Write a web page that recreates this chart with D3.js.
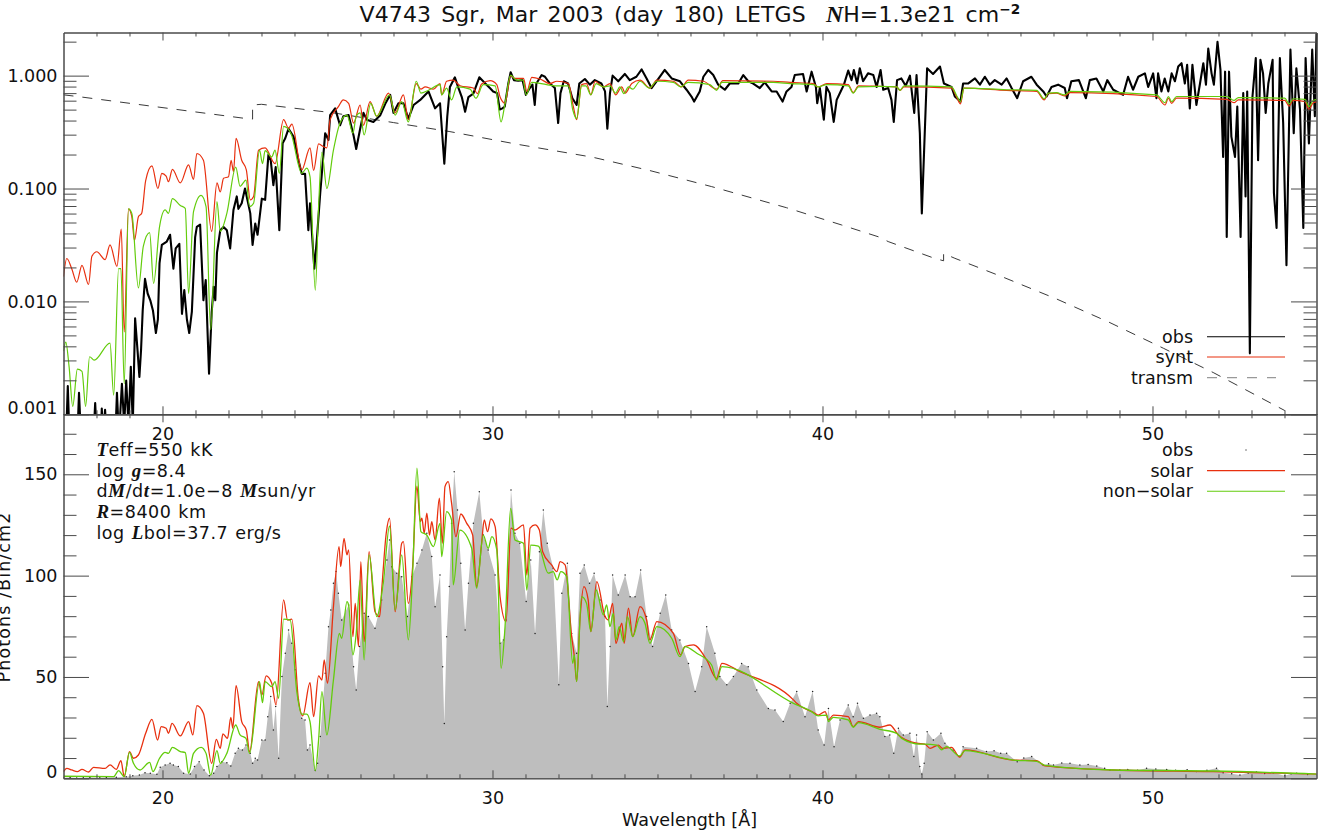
<!DOCTYPE html>
<html><head><meta charset="utf-8">
<script src="https://cdn.jsdelivr.net/npm/d3@7/dist/d3.min.js"></script>
<style>
html,body{margin:0;padding:0;background:#fff;overflow:hidden}
svg{display:block}
text{font-family:"DejaVu Sans",sans-serif;fill:#111}
.it{font-family:"Liberation Serif",serif;font-style:italic;font-weight:700}
</style></head><body><svg id="c" width="1321" height="830"></svg>
<script>
// wavelength [A], log10(flux) for the top panel
const obsLog=[[17,-3.2],[17.08,-3.2],[17.13,-2.75],[17.18,-3.2],[17.42,-3.2],[17.47,-2.81],[17.53,-3.2],[17.91,-3.2],[17.96,-2.9],[18.01,-3.2],[18.13,-3.2],[18.16,-2.95],[18.2,-3.2],[18.26,-2.96],[18.31,-3.2],[18.57,-3.2],[18.62,-2.81],[18.68,-3.2],[18.77,-2.73],[18.84,-3.1],[18.9,-2.7],[18.97,-3.1],[19.04,-2.58],[19.1,-3.1],[19.17,-2.15],[19.25,-2.46],[19.3,-2.67],[19.35,-2.43],[19.4,-2.08],[19.47,-1.8],[19.55,-1.93],[19.63,-1.99],[19.71,-2.08],[19.8,-2.28],[19.86,-2.16],[19.91,-1.66],[19.98,-1.5],[20.13,-1.47],[20.23,-1.41],[20.33,-1.71],[20.4,-1.53],[20.51,-1.49],[20.59,-2.11],[20.66,-1.9],[20.74,-2.16],[20.81,-2.28],[20.89,-2.09],[20.99,-1.43],[21.04,-1.34],[21.14,-1.32],[21.24,-1.99],[21.31,-1.81],[21.41,-2.64],[21.49,-2.1],[21.55,-1.87],[21.6,-1.99],[21.65,-1.57],[21.75,-1.37],[21.85,-1.34],[21.95,-1.37],[22.05,-1.53],[22.15,-1.19],[22.25,-1.07],[22.3,-1.18],[22.4,-1.13],[22.5,-1],[22.66,-1.22],[22.73,-1.5],[22.81,-1.31],[22.88,-1.41],[23.01,-1.09],[23.11,-1.1],[23.21,-0.7],[23.28,-0.75],[23.36,-0.97],[23.43,-0.81],[23.54,-1.37],[23.64,-0.6],[23.72,-0.555],[23.82,-0.47],[23.97,-0.54],[24.12,-0.75],[24.22,-0.87],[24.32,-0.87],[24.42,-1.37],[24.47,-1.13],[24.6,-1.71],[24.68,-1.44],[24.78,-1.04],[24.93,-0.51],[25.03,-0.57],[25.08,-0.35],[25.23,-0.29],[25.38,-0.44],[25.48,-0.36],[25.64,-0.35],[25.79,-0.53],[25.87,-0.65],[25.99,-0.47],[26.09,-0.33],[26.19,-0.39],[26.39,-0.41],[26.6,-0.35],[26.75,-0.25],[26.9,-0.17],[27,-0.33],[27.15,-0.245],[27.3,-0.245],[27.45,-0.38],[27.61,-0.26],[27.81,-0.215],[28.06,-0.14],[28.26,-0.29],[28.41,-0.245],[28.54,-0.78],[28.63,-0.36],[28.71,-0.1],[28.86,-0.015],[28.97,-0.11],[29.07,-0.19],[29.17,-0.32],[29.27,-0.19],[29.42,-0.16],[29.6,-0.015],[29.82,-0.08],[29.92,-0.11],[30.02,-0.14],[30.14,-0.155],[30.22,-0.3],[30.3,-0.29],[30.37,-0.275],[30.48,-0.07],[30.55,0.03],[30.65,-0.04],[30.78,-0.045],[30.91,-0.04],[31.01,-0.17],[31.13,-0.11],[31.21,-0.08],[31.28,-0.26],[31.33,-0.07],[31.49,0.005],[31.59,-0.01],[31.74,-0.07],[31.89,-0.11],[31.99,-0.42],[32.06,-0.155],[32.16,-0.05],[32.29,-0.07],[32.42,-0.2],[32.55,-0.26],[32.63,-0.07],[32.8,-0.03],[32.95,-0.08],[33.1,-0.04],[33.3,-0.07],[33.41,-0.14],[33.48,-0.47],[33.56,-0.155],[33.64,0],[33.81,-0.05],[34.01,0.015],[34.16,-0.04],[34.36,-0.01],[34.52,0.055],[34.67,-0.025],[34.82,-0.11],[34.97,-0.05],[35.22,0.05],[35.43,-0.025],[35.68,-0.05],[35.88,-0.125],[36.03,-0.185],[36.11,-0.23],[36.28,-0.14],[36.39,-0.01],[36.54,0.05],[36.69,0.005],[36.84,-0.08],[37.04,-0.125],[37.19,-0.07],[37.45,-0.07],[37.6,0.005],[37.75,-0.05],[37.9,-0.07],[38.1,-0.11],[38.25,-0.06],[38.46,-0.14],[38.61,-0.14],[38.79,-0.23],[38.91,-0.14],[39.06,-0.1],[39.16,0.005],[39.41,0.015],[39.52,-0.14],[39.67,0.035],[39.8,-0.1],[39.84,-0.245],[39.92,-0.11],[40.04,-0.39],[40.12,-0.1],[40.22,-0.155],[40.34,-0.41],[40.43,-0.215],[40.55,-0.14],[40.65,-0.08],[40.78,0.045],[40.88,-0.04],[40.95,0.05],[41.05,-0.07],[41.13,0.065],[41.23,-0.05],[41.38,0.02],[41.54,0.005],[41.64,-0.1],[41.76,0.05],[41.84,-0.125],[41.99,-0.11],[42.09,-0.215],[42.16,-0.41],[42.26,-0.04],[42.39,-0.025],[42.52,-0.09],[42.65,0],[42.78,-0.33],[42.85,0.005],[42.95,-0.51],[43.01,-1.22],[43.08,-0.66],[43.17,0.065],[43.35,0.015],[43.56,0.08],[43.68,-0.07],[43.91,-0.1],[44.01,-0.185],[44.18,-0.23],[44.26,-0.07],[44.41,-0.07],[44.62,-0.025],[44.77,-0.08],[44.92,-0.01],[45.07,-0.08],[45.22,-0.04],[45.43,-0.08],[45.58,-0.025],[45.73,-0.11],[45.9,-0.2],[46.08,-0.05],[46.33,-0.01],[46.49,-0.08],[46.69,-0.14],[46.79,-0.185],[46.94,-0.1],[47.14,-0.08],[47.34,-0.11],[47.41,-0.2],[47.54,-0.05],[47.77,-0.04],[47.98,-0.2],[48.1,-0.04],[48.3,-0.025],[48.51,-0.14],[48.63,-0.04],[48.81,-0.125],[49.11,-0.17],[49.26,-0.01],[49.41,-0.125],[49.57,-0.01],[49.77,0.02],[49.87,-0.1],[50.02,0.02],[50.12,-0.2],[50.17,0.02],[50.27,-0.14],[50.37,-0.025],[50.48,-0.14],[50.58,0.02],[50.68,-0.05],[50.78,0.08],[50.88,0.11],[50.98,-0.07],[51.05,0.095],[51.13,-0.29],[51.21,0.095],[51.33,-0.26],[51.44,-0.07],[51.54,0.11],[51.62,-0.08],[51.69,0.24],[51.79,0.02],[51.86,-0.08],[51.97,0.3],[52.06,0.05],[52.14,-0.72],[52.2,0.035],[52.25,-1.43],[52.32,0.035],[52.39,-0.54],[52.5,-0.72],[52.57,-0.275],[52.67,-1.43],[52.75,-0.155],[52.82,-1.07],[52.87,-0.14],[52.95,-2.46],[53.03,-0.185],[53.13,0.155],[53.2,-0.75],[53.27,0.14],[53.35,0.02],[53.43,-0.33],[53.51,-0.07],[53.64,0.14],[53.68,-1.04],[53.76,-1.35],[53.86,0.155],[53.96,-0.42],[54.06,-1.68],[54.18,0.23],[54.28,-0.51],[54.36,0.065],[54.47,-0.3],[54.57,-1.35],[54.64,0.155],[54.74,-0.6],[54.84,0.23],[54.92,-0.36],[54.97,0.375]];
const solarLog=[[17,-1.78],[17.1,-1.62],[17.25,-1.71],[17.4,-1.83],[17.56,-1.68],[17.76,-1.85],[17.86,-1.6],[18.01,-1.56],[18.26,-1.63],[18.41,-1.5],[18.62,-1.69],[18.75,-1.36],[18.84,-2.27],[18.97,-1.18],[19.07,-1.25],[19.15,-1.46],[19.27,-1.25],[19.37,-1.22],[19.49,-0.93],[19.68,-0.8],[19.86,-1],[19.98,-0.865],[20.11,-0.89],[20.18,-0.94],[20.3,-0.83],[20.54,-0.95],[20.79,-0.79],[20.94,-0.92],[21.04,-0.69],[21.24,-0.75],[21.49,-1.38],[21.65,-0.95],[21.75,-1.03],[21.85,-0.91],[22,-0.895],[22.08,-0.75],[22.15,-0.85],[22.23,-0.555],[22.4,-0.75],[22.54,-0.835],[22.66,-1.1],[22.76,-1.07],[22.91,-0.66],[23.11,-0.64],[23.41,-0.78],[23.67,-0.39],[23.82,-0.465],[23.92,-0.43],[24.22,-0.835],[24.47,-0.64],[24.58,-0.84],[24.73,-0.605],[24.88,-0.63],[24.98,-0.64],[25.08,-0.39],[25.33,-0.275],[25.48,-0.215],[25.64,-0.245],[25.79,-0.42],[25.99,-0.26],[26.09,-0.44],[26.29,-0.23],[26.49,-0.36],[26.85,-0.155],[27.05,-0.33],[27.3,-0.17],[27.45,-0.39],[27.69,-0.07],[27.83,-0.12],[27.96,-0.1],[28.21,-0.12],[28.41,-0.07],[28.46,-0.17],[28.61,-0.05],[28.81,-0.04],[29.02,-0.09],[29.42,-0.11],[29.54,-0.16],[29.67,-0.075],[29.93,-0.045],[30.13,-0.08],[30.23,-0.19],[30.38,-0.245],[30.55,0],[30.68,-0.025],[30.94,-0.025],[31.04,-0.14],[31.19,-0.015],[31.44,-0.03],[31.74,-0.07],[31.95,-0.05],[32.3,-0.07],[32.45,-0.275],[32.55,-0.39],[32.7,-0.08],[32.85,-0.07],[32.98,-0.17],[33.11,-0.05],[33.36,-0.1],[33.56,-0.07],[33.73,-0.17],[33.92,-0.1],[34.02,-0.155],[34.22,-0.07],[34.47,-0.04],[34.77,-0.11],[34.98,-0.04],[35.48,-0.05],[35.73,-0.1],[35.93,-0.04],[36.39,-0.05],[36.79,-0.12],[36.98,-0.045],[38.51,-0.05],[39.02,-0.06],[39.72,-0.07],[39.87,-0.1],[40.13,-0.07],[40.78,-0.08],[40.93,-0.15],[41.09,-0.09],[41.74,-0.095],[42.25,-0.1],[42.35,-0.13],[42.47,-0.1],[43.91,-0.11],[44.08,-0.2],[44.18,-0.25],[44.29,-0.11],[45.58,-0.13],[46.49,-0.14],[46.72,-0.215],[46.84,-0.16],[47.09,-0.155],[47.33,-0.18],[47.5,-0.15],[50.12,-0.185],[50.38,-0.26],[50.48,-0.2],[50.58,-0.245],[50.73,-0.2],[52.25,-0.21],[52.47,-0.24],[52.6,-0.215],[54.01,-0.22],[54.14,-0.27],[54.26,-0.22],[54.62,-0.23],[54.74,-0.3],[54.87,-0.24],[54.99,-0.23]];
const nonSolarLog=[[17,-2.44],[17.07,-2.36],[17.17,-2.58],[17.28,-2.93],[17.42,-2.6],[17.56,-2.62],[17.67,-2.93],[17.79,-2.49],[17.93,-2.52],[18.41,-2.37],[18.52,-2.83],[18.67,-1.71],[18.74,-1.71],[18.84,-2.73],[18.97,-1.18],[19.07,-1.22],[19.27,-1.88],[19.42,-1.51],[19.61,-1.39],[19.73,-1.84],[19.91,-1.34],[20.08,-1.19],[20.18,-1.22],[20.3,-1.09],[20.54,-1.15],[20.69,-1.175],[20.79,-1.93],[20.94,-1.205],[21.17,-1.06],[21.32,-1.16],[21.46,-2.25],[21.65,-1.115],[21.75,-1.38],[21.95,-1.22],[22.22,-0.81],[22.35,-0.98],[22.53,-0.925],[22.64,-1.16],[22.76,-1.13],[22.94,-0.66],[23.03,-0.78],[23.11,-0.665],[23.31,-0.72],[23.41,-0.66],[23.54,-0.865],[23.67,-0.45],[23.89,-0.51],[24.22,-0.865],[24.37,-0.82],[24.47,-0.895],[24.63,-1.9],[24.73,-1.16],[24.83,-0.68],[24.98,-1],[25.18,-0.66],[25.38,-0.42],[25.59,-0.35],[25.77,-0.51],[25.87,-0.36],[25.99,-0.33],[26.11,-0.525],[26.31,-0.245],[26.49,-0.36],[26.88,-0.17],[27.05,-0.35],[27.25,-0.23],[27.45,-0.41],[27.69,-0.05],[27.83,-0.155],[28.06,-0.13],[28.41,-0.08],[28.46,-0.17],[28.61,-0.11],[28.76,-0.215],[28.92,-0.1],[29.32,-0.12],[29.5,-0.2],[29.72,-0.08],[30.08,-0.09],[30.26,-0.41],[30.38,-0.245],[30.55,0.005],[30.73,-0.04],[30.92,-0.04],[31.02,-0.17],[31.19,-0.06],[31.64,-0.08],[31.9,-0.09],[32.3,-0.09],[32.43,-0.3],[32.55,-0.38],[32.7,-0.09],[32.83,-0.09],[32.98,-0.17],[33.14,-0.07],[33.36,-0.1],[33.56,-0.09],[33.73,-0.155],[33.86,-0.1],[33.98,-0.16],[34.12,-0.1],[34.25,-0.12],[34.47,-0.05],[34.75,-0.11],[34.98,-0.05],[35.48,-0.06],[35.7,-0.1],[35.93,-0.06],[36.59,-0.08],[36.79,-0.13],[36.95,-0.06],[38.51,-0.06],[39.02,-0.07],[39.72,-0.08],[39.87,-0.1],[40.13,-0.08],[40.78,-0.09],[40.93,-0.155],[41.09,-0.1],[41.74,-0.095],[42.25,-0.1],[42.35,-0.13],[42.47,-0.09],[43.91,-0.1],[44.08,-0.185],[44.18,-0.23],[44.29,-0.11],[45.58,-0.125],[46.49,-0.13],[46.72,-0.205],[46.84,-0.155],[47.09,-0.15],[47.33,-0.17],[47.5,-0.14],[50.12,-0.17],[50.38,-0.24],[50.48,-0.185],[50.58,-0.23],[50.73,-0.185],[52.25,-0.185],[52.47,-0.22],[52.6,-0.195],[54.01,-0.2],[54.14,-0.25],[54.26,-0.205],[54.62,-0.21],[54.74,-0.275],[54.87,-0.22],[54.99,-0.21]];
const transmLog=[[17,-0.17],[17.56,-0.19],[22.66,-0.385],[22.73,-0.385],[22.73,-0.26],[23,-0.254],[25.18,-0.33],[27,-0.416],[28.71,-0.496],[30.75,-0.608],[33.04,-0.723],[34.77,-0.841],[36.64,-0.983],[38.91,-1.17],[40.58,-1.323],[41.74,-1.432],[41.99,-1.47],[43.41,-1.62],[43.67,-1.64],[43.67,-1.575],[44.01,-1.618],[45.43,-1.78],[47.09,-1.978],[48.71,-2.188],[50.33,-2.415],[51.84,-2.63],[54.01,-2.967]];
// wavelength [A], photons per bin for the bottom panel
const obsPhot=[[17,0.3],[17.2,0.4],[17.4,0.2],[17.6,0.3],[17.8,0.4],[18.1,0.3],[18.3,0.4],[18.6,0.5],[18.9,0.8],[19.1,1.2],[19.3,1.6],[19.47,2.8],[19.63,2.5],[19.83,2],[19.93,5.4],[20.08,6.6],[20.23,7.4],[20.33,6.6],[20.48,5.8],[20.64,2.5],[20.84,2.1],[20.97,5.8],[21.11,8.2],[21.26,4.1],[21.42,1.2],[21.55,2.5],[21.65,5.8],[21.8,8.2],[21.95,7.7],[22.07,6.1],[22.2,12.3],[22.3,14.8],[22.42,14],[22.53,16.4],[22.66,12.3],[22.73,7.4],[22.81,9.9],[22.88,9],[23.01,18.9],[23.11,18.9],[23.19,30.4],[23.28,40.3],[23.36,23.8],[23.43,35.4],[23.52,9.9],[23.62,50.2],[23.72,61.7],[23.82,73.2],[23.92,66.6],[24.02,53.5],[24.12,38.7],[24.22,29.6],[24.32,28.8],[24.39,14],[24.47,16.4],[24.63,3.8],[24.7,7.4],[24.78,20.6],[24.93,51.8],[25.03,74.8],[25.1,83],[25.18,96.2],[25.26,102],[25.33,91.3],[25.43,78.1],[25.64,85.5],[25.79,55.1],[25.87,43.6],[25.97,65],[26.11,81.4],[26.24,79.8],[26.44,74],[26.64,88],[26.8,107.7],[26.88,117.6],[26.95,104.4],[27.1,101.2],[27.25,99.5],[27.42,79.8],[27.56,99.5],[27.71,106.1],[27.86,112.7],[28.01,120.9],[28.16,109.4],[28.26,84.7],[28.41,100.3],[28.49,55.1],[28.54,27.1],[28.61,69.9],[28.69,94.6],[28.76,125.8],[28.84,151.3],[28.94,132.4],[29.04,106.1],[29.17,73.2],[29.27,96.2],[29.42,125.8],[29.6,141.4],[29.72,120],[29.87,112.7],[30.08,100.3],[30.23,66.6],[30.33,68.3],[30.41,78.1],[30.56,142.3],[30.68,120.9],[30.83,116],[31.02,87.2],[31.16,107.7],[31.29,71.5],[31.42,111.8],[31.54,132.4],[31.66,116],[31.84,103.6],[32.01,46.1],[32.1,91.3],[32.27,106.1],[32.4,71.5],[32.55,61.7],[32.65,101.2],[32.78,105.3],[32.94,96.2],[33.08,101.2],[33.26,88],[33.41,79.8],[33.48,35.4],[33.56,65],[33.64,100.3],[33.81,90.5],[34.02,100.3],[34.17,89.6],[34.32,89.6],[34.49,102.8],[34.67,79.8],[34.85,65],[35.08,81.4],[35.25,90.5],[35.43,73.2],[35.68,68.3],[35.94,56.7],[36.14,42.8],[36.34,55.1],[36.49,74.8],[36.74,61.7],[36.89,50.2],[37.1,46.1],[37.3,50.2],[37.55,56.7],[37.75,55.1],[38.01,43.6],[38.36,34.5],[38.56,33.7],[38.81,28],[39.02,37],[39.22,42.8],[39.47,30.4],[39.7,42.8],[39.87,23.8],[40.05,16.4],[40.18,34.5],[40.35,15.6],[40.53,28.8],[40.78,36.2],[40.93,30.4],[41.06,37],[41.24,29.6],[41.44,31.2],[41.64,32.1],[41.74,30.4],[41.89,20.6],[42.04,21.4],[42.16,12.3],[42.3,24.7],[42.45,21.4],[42.65,22.2],[42.77,10.7],[42.85,21.4],[42.95,5.8],[43.01,2.1],[43.08,7.4],[43.17,23],[43.36,18.9],[43.59,22.2],[43.71,17.3],[43.96,14],[44.16,10.7],[44.26,15.6],[44.67,14.8],[44.97,13.2],[45.2,13.6],[45.4,12.4],[45.58,12.3],[45.9,8.2],[46.1,10],[46.34,10.7],[46.69,6.6],[46.85,7.2],[47,6.6],[47.25,7.6],[47.5,7.4],[47.8,6.6],[48.05,6.8],[48.31,6.1],[48.55,5],[48.71,4.1],[49.01,4.1],[49.25,4.4],[49.55,4],[49.82,4.9],[50.1,4.6],[50.43,4.4],[50.7,4],[51.05,4.2],[51.34,3.3],[51.65,4],[51.94,4.9],[52.14,2.8],[52.4,2.2],[52.65,1.6],[52.9,2.6],[53.15,3.1],[53.4,2.4],[53.66,2.8],[54.01,1.2],[54.2,2.2],[54.37,2.5],[54.7,1.9],[54.99,1.6]];
const solarPhot=[[17,3.3],[17.1,4.9],[17.25,4.1],[17.42,3.3],[17.56,4.4],[17.76,3.1],[17.91,5.4],[18.26,4.9],[18.41,6.6],[18.6,4.4],[18.74,8.7],[18.84,0.8],[19,13.2],[19.12,9.9],[19.27,11.5],[19.49,22.2],[19.68,29.1],[19.85,18.9],[19.96,25.5],[20.11,24.7],[20.18,22.2],[20.29,27.1],[20.54,20.9],[20.79,28],[20.92,21.4],[21.04,35.9],[21.24,32.1],[21.49,7.4],[21.63,19.2],[21.75,14.8],[21.83,21.9],[21.97,19.7],[22.07,30.1],[22.13,24.7],[22.23,45.7],[22.4,28],[22.54,23.8],[22.64,13.2],[22.91,47.7],[23.01,41.1],[23.14,50.5],[23.31,46.9],[23.44,36.2],[23.67,88],[23.79,78.1],[23.92,78.5],[24.12,38.7],[24.25,30.8],[24.47,47.2],[24.58,30.4],[24.73,50.5],[24.83,48.5],[24.9,58.4],[25,46.9],[25.18,84.7],[25.35,114.3],[25.4,104.4],[25.5,118.4],[25.59,110.2],[25.64,112.7],[25.77,69.9],[25.84,86.3],[25.94,65],[26.01,106.9],[26.11,67.4],[26.26,111.8],[26.44,82.2],[26.58,79.8],[26.65,94.6],[26.78,120.9],[26.88,128.3],[27.05,82.2],[27.25,116],[27.3,116.8],[27.45,86.3],[27.58,104.4],[27.71,144.2],[27.81,126.6],[27.86,128.3],[27.93,120.9],[28.01,130.8],[28.09,120],[28.16,126.6],[28.26,117.6],[28.39,138.2],[28.48,116],[28.56,143.9],[28.66,146.4],[28.76,135.7],[28.89,119.2],[29.04,130.4],[29.22,125.8],[29.4,120],[29.52,94.6],[29.67,116],[29.75,127.5],[29.85,121.7],[29.95,128],[30.08,124.2],[30.23,89.6],[30.41,77.3],[30.56,123.4],[30.68,122.5],[30.94,125],[31.04,100.3],[31.14,123.4],[31.29,125],[31.42,122.5],[31.52,111.8],[31.79,105.3],[31.95,102],[32.05,106.9],[32.2,105.3],[32.4,69.9],[32.48,60],[32.55,47.7],[32.65,78.1],[32.77,94.6],[32.9,88],[32.98,72.4],[33.16,97],[33.41,79.8],[33.51,78.1],[33.64,86.3],[33.74,66.6],[33.92,76.5],[33.99,66.6],[34.12,83.9],[34.25,69.9],[34.47,84.7],[34.67,78.1],[34.77,68.3],[34.98,77.3],[35.48,71.5],[35.7,60.9],[35.83,65],[36.09,65.8],[36.49,58.4],[36.79,49.3],[36.95,56.7],[37.5,52.6],[39.12,38.7],[39.22,37],[39.77,32.1],[39.87,31.2],[40.08,32.9],[40.18,28.8],[40.33,31.2],[40.78,30.4],[40.93,25.5],[41.09,28],[41.74,25.2],[42.04,26.3],[42.3,21.4],[42.85,17.3],[43.1,16.9],[43.26,14.8],[43.51,16.4],[43.63,14.8],[43.91,15.3],[44.16,10.4],[44.32,14],[45.78,9],[46.49,8.7],[46.74,6.1],[48.81,4.1],[51.84,3.3],[54.99,2.1]];
const nonSolarPhot=[[17,1],[18.52,0.8],[18.67,3.8],[18.84,0.8],[19,12.8],[19.12,7.4],[19.32,4.1],[19.61,7.9],[19.71,3.3],[19.91,9.9],[20.08,12.8],[20.18,12.3],[20.3,15.3],[20.54,13.2],[20.69,12.7],[20.79,2.5],[20.94,12.3],[21.17,15.3],[21.32,12.3],[21.46,1.6],[21.65,13.7],[21.75,7.4],[21.95,12.3],[22.22,26.3],[22.35,21.4],[22.53,19.7],[22.64,12.3],[22.94,47.7],[23.03,37.3],[23.11,47.7],[23.31,45.2],[23.41,47.7],[23.52,39.5],[23.67,78.5],[23.87,78.1],[24.07,42.8],[24.22,31.7],[24.37,31.7],[24.47,28],[24.63,3.8],[24.73,18.9],[24.83,42.8],[24.98,21.4],[25.18,48.5],[25.36,71.5],[25.43,69.1],[25.59,87.2],[25.64,85.5],[25.77,60.9],[25.87,71.5],[25.99,97.9],[26.11,58.4],[26.26,110.2],[26.49,79.8],[26.69,96.2],[26.88,124.5],[27.05,83],[27.25,110.2],[27.45,68.3],[27.58,101.2],[27.71,153],[27.83,121.7],[28.01,120],[28.21,114.3],[28.41,125.8],[28.46,109.4],[28.61,131.6],[28.76,127.5],[28.81,95.4],[29.01,122.5],[29.37,113.5],[29.52,93.8],[29.72,120],[29.87,113.5],[29.98,119.2],[30.13,112.7],[30.26,54.3],[30.38,74.8],[30.55,133.2],[30.68,117.6],[30.94,116],[31.04,92.9],[31.16,115.1],[31.39,114.6],[31.69,101.2],[31.84,102],[31.96,97.9],[32.07,102],[32.25,99.5],[32.43,56.7],[32.48,60.9],[32.55,47.7],[32.7,89.6],[32.85,86.3],[32.98,72.4],[33.14,92.9],[33.36,80.6],[33.46,85.5],[33.56,74.8],[33.66,81.4],[33.74,68.3],[33.84,74.8],[33.97,67.4],[34.09,79.8],[34.25,69.9],[34.47,79.8],[34.62,76.5],[34.77,66.6],[34.98,74.8],[35.43,69.1],[35.68,60],[35.83,65],[36.19,61.7],[36.64,55.9],[36.79,48.5],[36.95,55.1],[39.12,37],[39.67,32.9],[39.87,30.8],[40.13,31.2],[40.18,28],[40.33,30.1],[40.78,28.8],[40.93,25.2],[41.09,27.5],[41.74,24.2],[42.25,22.2],[42.4,19.7],[42.95,16.9],[43.1,16.9],[43.46,16.4],[43.61,14],[43.76,15.6],[44.16,11],[44.32,13.7],[45.78,9],[46.49,8.4],[46.74,6.4],[48.81,4.1],[51.84,3.6],[54.99,2.1]];
const xMajor=[20,30,40,50];
const yLogMajor=[0.001,0.01,0.1,1];
const yLinMajor=[0,50,100,150];
const RED="#e8300f",GREEN="#63cc0c",INK="#4a4a4a";

const L=63.5,R=1316.5,T=32.5,M=414.3,B=778.3;
const svg=d3.select("#c");
const x=d3.scaleLinear().domain([17,54.97]).range([L,R]);
const yT=d3.scaleLog().domain([0.001,2.41]).range([M,T]);
const yB=d3.scaleLinear().domain([0,180]).range([B,B-180*2.0267]);
const defs=svg.append("defs");
defs.append("clipPath").attr("id","cT").append("rect").attr("x",L).attr("y",T-2).attr("width",R-L+2).attr("height",M-T+2);
defs.append("clipPath").attr("id","cB").append("rect").attr("x",L).attr("y",M).attr("width",R-L).attr("height",B-M);

const topLine=d3.line().x(d=>x(d[0])).y(d=>yT(Math.pow(10,d[1])));
const botLine=d3.line().x(d=>x(d[0])).y(d=>yB(d[1]));
const smooth=d3.curveMonotoneX;

// bottom panel marks
const gB=svg.append("g").attr("clip-path","url(#cB)");
gB.append("path").datum(obsPhot).attr("fill","#bebebe")
  .attr("d",d3.area().x(d=>x(d[0])).y0(yB(0)).y1(d=>yB(d[1])));
gB.selectAll("circle").data(obsPhot).join("circle")
  .attr("cx",d=>x(d[0])).attr("cy",d=>yB(d[1])).attr("r",0.75).attr("fill","#222");
gB.append("path").datum(solarPhot).attr("fill","none").attr("stroke",RED).attr("stroke-width",1.3).attr("d",botLine.curve(smooth));
gB.append("path").datum(nonSolarPhot).attr("fill","none").attr("stroke",GREEN).attr("stroke-width",1.3).attr("d",botLine.curve(smooth));

// top panel marks
const gT=svg.append("g").attr("clip-path","url(#cT)");
gT.append("path").datum(transmLog).attr("fill","none").attr("stroke","#222").attr("stroke-width",0.9).attr("stroke-dasharray","10,9").attr("d",topLine.curve(d3.curveLinear));
gT.append("path").datum(obsLog).attr("fill","none").attr("stroke","#000").attr("stroke-width",2.1).attr("stroke-linejoin","round").attr("d",topLine.curve(d3.curveLinear));
gT.append("path").datum(solarLog).attr("fill","none").attr("stroke",RED).attr("stroke-width",1.2).attr("d",topLine.curve(smooth));
gT.append("path").datum(nonSolarLog).attr("fill","none").attr("stroke",GREEN).attr("stroke-width",1.2).attr("d",topLine.curve(smooth));

// axes
const xMinor=d3.range(18,55).filter(v=>!xMajor.includes(v));
function style(g){g.select(".domain").attr("stroke",INK).attr("stroke-width",1);g.selectAll("line").attr("stroke",INK).attr("stroke-width",1);g.selectAll("text").attr("fill","#111").attr("font-family","'DejaVu Sans',sans-serif").attr("font-size",17.5);}
function addX(y,gen,labels,pad){
  svg.append("g").attr("transform",`translate(0,${y})`).call(gen(x).tickValues(xMinor).tickSize(-4).tickSizeOuter(0).tickFormat("")).call(style);
  svg.append("g").attr("transform",`translate(0,${y})`).call(gen(x).tickValues(xMajor).tickSize(-8).tickSizeOuter(0).tickPadding(pad).tickFormat(labels?d3.format("d"):"")).call(style);
}
addX(T,d3.axisTop,false,0);
addX(M,d3.axisBottom,true,13);
addX(M,d3.axisTop,false,0);
addX(B,d3.axisBottom,true,13);

const logMinor=yT.ticks().filter(v=>!yLogMajor.some(m=>Math.abs(m-v)<m*1e-6));
const linMinor=d3.range(10,180,10).filter(v=>!yLinMajor.includes(v));
function addY(scale,minor,major,fmt){
  svg.append("g").attr("transform",`translate(${L},0)`).call(d3.axisLeft(scale).tickValues(minor).tickSize(-13).tickSizeOuter(0).tickFormat("")).call(style);
  const a=svg.append("g").attr("transform",`translate(${L},0)`).call(d3.axisLeft(scale).tickValues(major).tickSize(-25.5).tickSizeOuter(0).tickPadding(6).tickFormat(fmt)).call(style);
  svg.append("g").attr("transform",`translate(${R},0)`).call(d3.axisRight(scale).tickValues(minor).tickSize(-13).tickSizeOuter(0).tickFormat("")).call(style);
  svg.append("g").attr("transform",`translate(${R},0)`).call(d3.axisRight(scale).tickValues(major).tickSize(-25.5).tickSizeOuter(0).tickFormat("")).call(style);
  return a;
}
const aT=addY(yT,logMinor,yLogMajor,d3.format(".3f"));
const aB=addY(yB,linMinor,yLinMajor,d3.format("d"));
aT.selectAll("text").filter(d=>d===0.001).attr("dy","-0.02em");
aB.selectAll("text").filter(d=>d===0).attr("dy","-0.02em");

// texts
function rich(xp,yp,parts,size,anchor,ls,ws){
  const t=svg.append("text").attr("x",xp).attr("y",yp).attr("font-size",size).attr("text-anchor",anchor||"start").attr("letter-spacing",ls||0).attr("word-spacing",ws||0).style("white-space","pre");
  parts.forEach(p=>{const s=t.append("tspan").text(p.t);if(p.i)s.attr("class","it").attr("font-size",size*1.08);if(p.sup)s.attr("dy",p.sup).attr("font-size",size*0.62).attr("font-weight",700);});
  return t;
}
rich(690,22,[{t:"V4743 Sgr, Mar 2003 (day 180) LETGS  "},{t:"N",i:1},{t:"H=1.3e21 cm"},{t:"−2",sup:-8}],22,"middle",0.1,3);
const paramY=[456,476.5,497,517.5,538.5];
rich(96.5,paramY[0],[{t:"T",i:1},{t:"eff=550 kK"}],17.5,"start",0.5,1);
rich(96.5,paramY[1],[{t:"log "},{t:"g",i:1},{t:"=8.4"}],17.5,"start",0.5,1);
rich(96.5,paramY[2],[{t:"d"},{t:"M",i:1},{t:"/d"},{t:"t",i:1},{t:"=1.0e−8 "},{t:"M",i:1},{t:"sun/yr"}],17.5,"start",0.6,1);
rich(96.5,paramY[3],[{t:"R",i:1},{t:"=8400 km"}],17.5,"start",0.5,1);
rich(96.5,paramY[4],[{t:"log "},{t:"L",i:1},{t:"bol=37.7 erg/s"}],17.5,"start",0.5,1);
svg.append("text").attr("transform","translate(10,597) rotate(-90)").attr("text-anchor","middle").attr("font-size",17.5).attr("letter-spacing",1.1).text("Photons /Bin/cm2");
svg.append("text").attr("x",689.5).attr("y",826).attr("text-anchor","middle").attr("font-size",17.5).text("Wavelength [Å]");

// legends
const legTop=[["obs","#000",1.1,null,336.7],["synt",RED,1.2,null,357],["transm","#999",1.2,"10,10",377.7]];
const legBot=[["solar",RED,1.3,null,470.7],["non−solar",GREEN,1.1,null,491.3]];
legTop.concat(legBot).forEach(d=>{
  svg.append("text").attr("x",1193).attr("y",d[4]+6).attr("text-anchor","end").attr("font-size",17.5).text(d[0]);
  svg.append("line").attr("x1",1207).attr("x2",d[3]?1276:1285).attr("y1",d[4]).attr("y2",d[4]).attr("stroke",d[1]).attr("stroke-width",d[2]).attr("stroke-dasharray",d[3]);
});
svg.append("text").attr("x",1193).attr("y",456).attr("text-anchor","end").attr("font-size",17.5).text("obs");
svg.append("circle").attr("cx",1246).attr("cy",450).attr("r",0.75).attr("fill","#555");
</script></body></html>
